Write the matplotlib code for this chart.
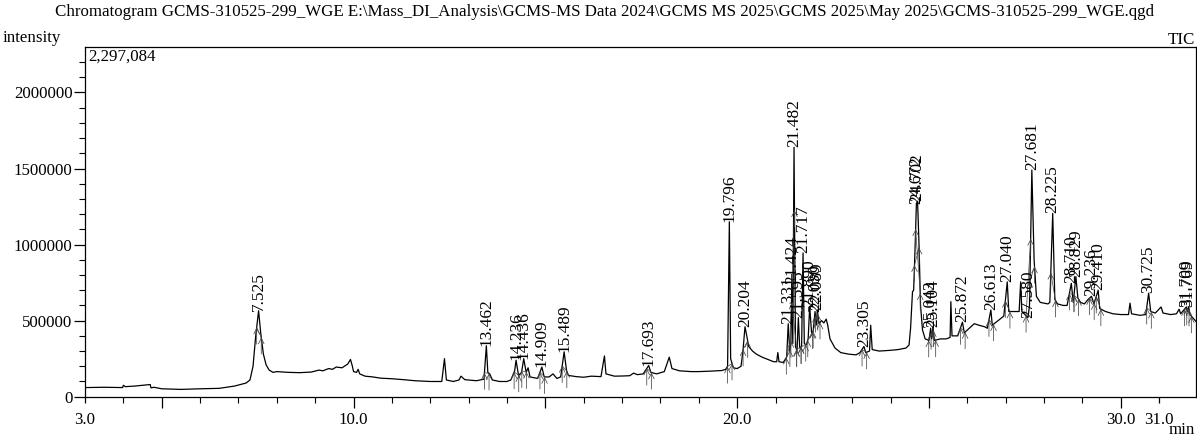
import matplotlib
matplotlib.use("Agg")
import matplotlib.pyplot as plt
import numpy as np
from matplotlib.ticker import FixedLocator, MultipleLocator, FuncFormatter

plt.rcParams['font.family'] = ['Liberation Serif', 'DejaVu Serif']

# chromatogram trace, vertices (min, intensity)
trace_t = [3.0, 3.5, 3.98, 4.0, 4.05, 4.3, 4.6, 4.7, 4.72, 4.8, 5.0, 5.5, 6.0, 6.5, 6.9, 7.2, 7.3,
           7.38, 7.45, 7.525, 7.58, 7.65, 7.72, 7.8, 7.9, 8.0,
           8.3, 8.6, 8.9, 9.1, 9.2, 9.35, 9.45, 9.55, 9.7, 9.85, 9.92, 9.97, 10.0, 10.08, 10.12, 10.16,
           10.3, 10.5, 10.7, 11.0, 11.3, 11.6, 12.0, 12.3, 12.37, 12.42, 12.6, 12.75, 12.8, 12.9,
           13.2, 13.4, 13.462, 13.5, 13.55, 13.62, 13.8, 14.0, 14.1, 14.2, 14.236, 14.3, 14.38,
           14.436, 14.5, 14.55, 14.6, 14.8, 14.909, 14.97, 15.1, 15.2, 15.3, 15.4, 15.489, 15.55,
           15.6, 15.8, 16.0, 16.2, 16.45, 16.54, 16.58, 16.8, 17.0, 17.2, 17.3, 17.4, 17.55, 17.693,
           17.75, 17.9, 18.1, 18.23, 18.3, 18.5, 18.8, 19.0, 19.3, 19.6, 19.7, 19.75, 19.796, 19.83,
           19.9, 20.0, 20.1, 20.15, 20.204, 20.25, 20.3, 20.4, 20.5, 20.65, 20.8, 20.95, 21.03,
           21.06, 21.09, 21.2, 21.29, 21.331, 21.37, 21.4, 21.424, 21.45, 21.482, 21.52, 21.56,
           21.595, 21.63, 21.68, 21.717, 21.75, 21.8, 21.85, 21.89, 21.94, 21.98, 22.03, 22.06,
           22.089, 22.13, 22.2, 22.26, 22.32, 22.36, 22.42, 22.55, 22.7, 22.9, 23.1, 23.2, 23.305,
           23.35, 23.45, 23.48, 23.52, 23.7, 24.0, 24.2, 24.4, 24.48, 24.52, 24.57, 24.6, 24.64,
           24.672, 24.702, 24.74, 24.78, 24.83, 24.9, 25.0, 25.043, 25.07, 25.104, 25.14, 25.3,
           25.45, 25.55, 25.57, 25.6, 25.75, 25.872, 25.92, 26.05, 26.18, 26.3, 26.45, 26.52,
           26.613, 26.65, 26.8, 26.95, 27.04, 27.08, 27.2, 27.35, 27.39, 27.42, 27.5, 27.58, 27.62,
           27.681, 27.74, 27.8, 27.9, 28.0, 28.1, 28.15, 28.225, 28.28, 28.35, 28.5, 28.6, 28.71,
           28.76, 28.829, 28.88, 28.95, 29.05, 29.15, 29.236, 29.3, 29.41, 29.45, 29.6, 29.8, 30.0,
           30.2, 30.24, 30.28, 30.5, 30.65, 30.725, 30.78, 30.9, 31.05, 31.1, 31.3, 31.45, 31.52,
           31.56, 31.709, 31.74, 31.769, 31.8, 31.96]
trace_y = [60000, 62000, 60000, 75000, 66000, 70000, 78000, 80000, 58000, 62000, 52000, 48000, 52000, 55000, 70000, 90000, 110000,
           200000, 400000, 565000, 420000, 280000, 210000, 175000, 160000, 165000,
           160000, 158000, 162000, 175000, 170000, 185000, 180000, 195000, 190000, 215000, 245000, 200000, 165000, 160000, 180000, 150000,
           135000, 130000, 122000, 118000, 112000, 105000, 100000, 100000, 250000, 110000, 100000, 110000, 135000, 112000,
           105000, 115000, 335000, 160000, 150000, 110000, 100000, 100000, 110000, 170000, 240000, 140000, 160000,
           250000, 160000, 190000, 130000, 120000, 195000, 130000, 130000, 150000, 120000, 130000, 295000, 175000,
           140000, 132000, 128000, 135000, 132000, 268000, 150000, 135000, 136000, 138000, 155000, 145000, 150000, 205000,
           160000, 150000, 165000, 260000, 185000, 170000, 165000, 165000, 168000, 172000, 180000, 200000, 1150000, 250000,
           190000, 185000, 200000, 300000, 460000, 400000, 330000, 300000, 280000, 260000, 245000, 230000, 230000,
           290000, 230000, 225000, 260000, 480000, 300000, 350000, 740000, 350000, 1640000, 330000, 300000,
           520000, 320000, 330000, 945000, 350000, 340000, 380000, 590000, 420000, 430000, 560000, 470000,
           570000, 480000, 500000, 485000, 510000, 470000, 380000, 320000, 290000, 280000, 275000, 290000, 330000,
           290000, 300000, 470000, 310000, 300000, 305000, 310000, 320000, 340000, 450000, 690000, 700000, 1000000,
           1270000, 1285000, 1000000, 600000, 440000, 380000, 370000, 450000, 380000, 460000, 370000, 380000,
           380000, 390000, 625000, 400000, 400000, 490000, 420000, 450000, 480000, 470000, 460000, 450000,
           570000, 470000, 500000, 530000, 755000, 560000, 560000, 560000, 755000, 560000, 540000, 520000, 600000,
           1490000, 900000, 660000, 620000, 615000, 610000, 620000, 1205000, 640000, 610000, 600000, 600000, 745000,
           620000, 790000, 650000, 620000, 610000, 640000, 660000, 610000, 700000, 580000, 560000, 545000, 540000,
           540000, 615000, 545000, 535000, 540000, 680000, 560000, 550000, 590000, 550000, 540000, 545000, 575000,
           545000, 590000, 560000, 590000, 540000, 495000]

# labelled peaks
peak_labels = ["7.525", "13.462", "14.236", "14.436", "14.909", "15.489", "17.693", "19.796", "20.204",
               "21.331", "21.424", "21.482", "21.595", "21.717", "21.890", "22.030", "22.089", "23.305",
               "24.672", "24.702", "25.043", "25.104", "25.872", "26.613", "27.040", "27.580", "27.681",
               "28.225", "28.710", "28.829", "29.236", "29.410", "30.725", "31.709", "31.769"]
peak_height = [565000, 335000, 240000, 250000, 195000, 295000, 205000, 1150000, 460000,
               480000, 740000, 1640000, 520000, 945000, 590000, 560000, 570000, 330000,
               1270000, 1285000, 450000, 460000, 490000, 570000, 755000, 520000, 1490000,
               1205000, 745000, 790000, 660000, 700000, 680000, 590000, 590000]

y_max = 2297084

fig = plt.figure(figsize=(11.97, 4.37), dpi=100)
ax = fig.add_axes([85 / 1197, (437 - 396.7) / 437, (1196 - 85) / 1197, (396.7 - 47.3) / 437])

ax.plot(trace_t, trace_y, color="black", lw=0.9)

# peak start / end markers
t_arr = np.array(trace_t)
y_arr = np.array(trace_y)
for lab in peak_labels:
    rt = float(lab)
    for edge in (rt - 0.05, rt + 0.07):
        yb = np.interp(edge, t_arr, y_arr)
        ax.annotate("", xy=(edge, yb), xytext=(0, -12), textcoords="offset points",
                    arrowprops=dict(arrowstyle="->", color="#444444", lw=0.55, shrinkA=0, shrinkB=0))
    ax.plot([rt - 0.05, rt + 0.07], [np.interp(rt - 0.05, t_arr, y_arr), np.interp(rt + 0.07, t_arr, y_arr)],
            color="#444444", lw=0.5)

for lab, h in zip(peak_labels, peak_height):
    ax.text(float(lab), h, lab, rotation=90, ha="center", va="bottom", fontsize=12.5)

ax.set_xlim(3.0, 31.96)
ax.set_ylim(0, y_max)

ax.xaxis.set_major_locator(FixedLocator([3, 5, 10, 15, 20, 25, 30, 31]))
xlab = {3: "3.0", 10: "10.0", 20: "20.0", 30: "30.0", 31: "31.0"}
ax.xaxis.set_major_formatter(FuncFormatter(lambda v, p: xlab.get(int(round(v)), "")))
ax.xaxis.set_minor_locator(MultipleLocator(1))
ax.yaxis.set_major_locator(MultipleLocator(500000))
ax.yaxis.set_major_formatter(FuncFormatter(lambda v, p: "%d" % v))
ax.yaxis.set_minor_locator(MultipleLocator(100000))

ax.tick_params(axis="both", which="major", length=8, width=0.9, labelsize=12.2, direction="out")
ax.tick_params(axis="both", which="minor", length=4, width=0.8, direction="out")
ax.tick_params(axis="x", pad=3)
ax.tick_params(axis="y", pad=1)
for i, tk in enumerate(ax.xaxis.get_major_ticks()):
    if i in (0, 7):
        tk.tick1line.set_markersize(4)

for s in ax.spines.values():
    s.set_linewidth(0.9)

ax.text(0.003, 0.995, "{:,}".format(y_max), transform=ax.transAxes, ha="left", va="top", fontsize=12.2)

fig.text(0.505, 1 - 12 / 437, "Chromatogram GCMS-310525-299_WGE E:\\Mass_DI_Analysis\\GCMS-MS Data 2024\\GCMS MS 2025\\GCMS 2025\\May 2025\\GCMS-310525-299_WGE.qgd",
         ha="center", va="center", fontsize=12.2)
fig.text(3 / 1197, 1 - 38 / 437, "intensity", ha="left", va="center", fontsize=12.2)
fig.text(1195 / 1197, 1 - 40 / 437, "TIC", ha="right", va="center", fontsize=12.2)
fig.text(1195 / 1197, 1 - 430 / 437, "min", ha="right", va="center", fontsize=12.2)

fig.savefig("out.png", dpi=100)
